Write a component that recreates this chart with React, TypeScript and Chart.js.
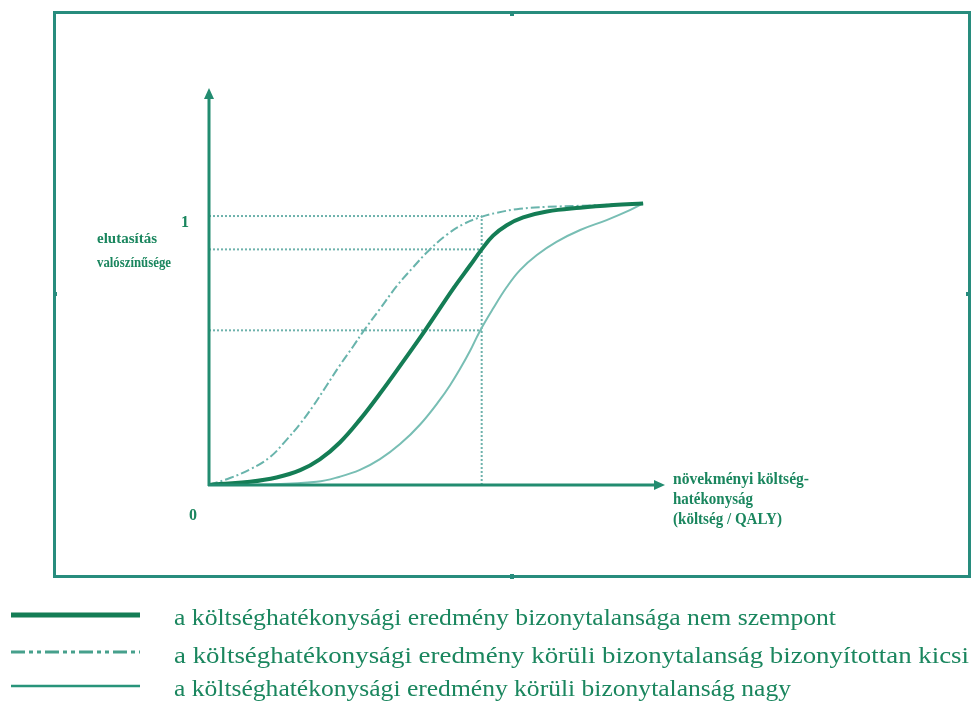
import React, { useEffect, useRef } from "react";
import { Chart, registerables } from "chart.js";

Chart.register(...registerables);

// ---- data ----
// thick curve: uncertainty not considered
const baseX = [0, 0.24, 0.9, 1.48, 2.0, 2.43, 2.87, 3.31, 3.75, 4.19, 4.74, 5.36, 5.72, 5.98, 6.23, 6.53, 6.89, 7.41, 8.14, 8.87, 9.52];
const baseY = [0, 0.004, 0.012, 0.028, 0.055, 0.095, 0.158, 0.243, 0.34, 0.443, 0.575, 0.731, 0.815, 0.876, 0.927, 0.966, 0.995, 1.017, 1.031, 1.041, 1.047];
// dash-dot curve: uncertainty proven small
const smallX = [0, 0.46, 0.9, 1.34, 1.7, 2.0, 2.29, 2.58, 2.87, 3.16, 3.38, 3.75, 4.12, 4.48, 4.81, 5.21, 5.58, 5.94, 6.31, 6.82, 7.41, 8.14, 8.87, 9.52];
const smallY = [0, 0.026, 0.058, 0.104, 0.168, 0.228, 0.295, 0.37, 0.445, 0.515, 0.57, 0.655, 0.74, 0.81, 0.87, 0.93, 0.97, 0.995, 1.012, 1.027, 1.034, 1.038, 1.043, 1.047];
// light curve: uncertainty large
const largeX = [0, 1.2, 2.36, 2.87, 3.31, 3.75, 4.19, 4.63, 5.07, 5.29, 5.5, 5.72, 5.94, 6.23, 6.53, 6.82, 7.19, 7.62, 8.14, 8.72, 9.23, 9.52];
const largeY = [0, 0.002, 0.012, 0.031, 0.056, 0.096, 0.152, 0.225, 0.318, 0.372, 0.43, 0.497, 0.572, 0.656, 0.736, 0.799, 0.855, 0.904, 0.948, 0.985, 1.022, 1.047];

const refLevels = [1, 0.876, 0.575];
const refX = 5.98;

const yTickLabels = ["0", "1"];
const yTitle = ["elutasítás", "valószínűsége"];
const xTitle = ["növekményi költség-", "hatékonyság", "(költség / QALY)"];
const legendLabels = [
  "a költséghatékonysági eredmény bizonytalansága nem szempont",
  "a költséghatékonysági eredmény körüli bizonytalanság bizonyítottan kicsi",
  "a költséghatékonysági eredmény körüli bizonytalanság nagy",
];

const X_MAX = 10;
const Y_MAX = 1.476;

const W = 972;
const H = 708;

const C_DARK = "rgb(20,125,85)";
const C_AXIS = "rgb(34,140,112)";
const C_LIGHT = "rgb(120,190,180)";
const C_DASH = "rgb(105,180,172)";
const C_REF = "rgb(110,178,172)";
const C_TEXT = "rgb(26,134,94)";
const C_FRAME = "rgb(40,140,125)";

function pts(xs: number[], ys: number[]) {
  return xs.map((x, i) => ({ x, y: ys[i] }));
}

function fitText(ctx: CanvasRenderingContext2D, text: string, x: number, y: number, width: number) {
  const w = ctx.measureText(text).width;
  ctx.save();
  ctx.translate(x, y);
  ctx.scale(width / w, 1);
  ctx.fillText(text, 0, 0);
  ctx.restore();
}

const decor = {
  id: "decor",
  afterDatasetsDraw(chart: any) {
    const ctx = chart.ctx as CanvasRenderingContext2D;
    const xs = chart.scales.x;
    const ys = chart.scales.y;
    const x0 = xs.getPixelForValue(0);
    const y0 = ys.getPixelForValue(0);
    const xEnd = xs.getPixelForValue(X_MAX);
    const yEnd = ys.getPixelForValue(Y_MAX);
    ctx.save();
    ctx.strokeStyle = C_AXIS;
    ctx.fillStyle = C_AXIS;
    ctx.lineWidth = 3;
    ctx.beginPath();
    ctx.moveTo(x0, y0 + 1);
    ctx.lineTo(x0, yEnd + 8);
    ctx.moveTo(x0 - 1, y0);
    ctx.lineTo(xEnd - 8, y0);
    ctx.stroke();
    ctx.beginPath();
    ctx.moveTo(x0, yEnd);
    ctx.lineTo(x0 - 5, yEnd + 11);
    ctx.lineTo(x0 + 5, yEnd + 11);
    ctx.closePath();
    ctx.fill();
    ctx.beginPath();
    ctx.moveTo(xEnd, y0);
    ctx.lineTo(xEnd - 11, y0 - 5);
    ctx.lineTo(xEnd - 11, y0 + 5);
    ctx.closePath();
    ctx.fill();
    ctx.restore();
  },
  afterDraw(chart: any) {
    const ctx = chart.ctx as CanvasRenderingContext2D;
    const xs = chart.scales.x;
    const ys = chart.scales.y;
    const x0 = xs.getPixelForValue(0);
    const y0 = ys.getPixelForValue(0);
    const y1 = ys.getPixelForValue(1);
    ctx.save();
    // frame
    ctx.strokeStyle = C_FRAME;
    ctx.lineWidth = 3;
    ctx.strokeRect(54.5, 12.5, 915, 564);
    ctx.fillStyle = C_FRAME;
    ctx.fillRect(510, 11, 4, 5);
    ctx.fillRect(53, 292, 4, 4);
    ctx.fillRect(966, 292, 5, 4);
    ctx.fillRect(510, 574, 4, 5);

    // tick labels
    ctx.fillStyle = C_TEXT;
    ctx.font = "bold 16px 'Liberation Serif'";
    ctx.textAlign = "center";
    ctx.textBaseline = "alphabetic";
    ctx.fillText(yTickLabels[1], x0 - 24, y1 + 11);
    ctx.fillText(yTickLabels[0], x0 - 16, y0 + 35);

    // axis titles
    ctx.textAlign = "left";
    ctx.font = "bold 15px 'Liberation Serif'";
    fitText(ctx, yTitle[0], 97, 243, 60);
    fitText(ctx, yTitle[1], 97, 267, 74);
    ctx.font = "bold 16px 'Liberation Serif'";
    const xw = [136, 80, 109];
    xTitle.forEach((t, i) => fitText(ctx, t, 673, 484 + i * 20, xw[i]));

    // legend
    const rows = [618, 656, 689];
    ctx.lineCap = "butt";
    ctx.strokeStyle = C_DARK;
    ctx.lineWidth = 5;
    ctx.beginPath();
    ctx.moveTo(11, rows[0] - 3);
    ctx.lineTo(140, rows[0] - 3);
    ctx.stroke();
    ctx.strokeStyle = "rgb(70,160,140)";
    ctx.lineWidth = 3;
    ctx.setLineDash([14, 4, 4, 4, 4, 4]);
    ctx.beginPath();
    ctx.moveTo(11, rows[1] - 4);
    ctx.lineTo(140, rows[1] - 4);
    ctx.stroke();
    ctx.setLineDash([]);
    ctx.strokeStyle = "rgb(40,148,122)";
    ctx.lineWidth = 2.5;
    ctx.beginPath();
    ctx.moveTo(11, rows[2] - 3);
    ctx.lineTo(140, rows[2] - 3);
    ctx.stroke();

    ctx.fillStyle = C_TEXT;
    ctx.font = "24px 'Liberation Serif'";
    ctx.textBaseline = "middle";
    const lw = [662, 795, 617];
    legendLabels.forEach((t, i) => fitText(ctx, t, 174, rows[i] + 1, lw[i]));
    ctx.restore();
  },
};

export default function App() {
  const ref = useRef<HTMLCanvasElement | null>(null);
  useEffect(() => {
    if (!ref.current) return;
    const refSets = refLevels.map((lv) => ({
      data: [
        { x: 0, y: lv },
        { x: refX, y: lv },
      ],
      borderColor: C_REF,
      borderWidth: 2,
      borderDash: [2, 2],
      pointRadius: 0,
      tension: 0,
      order: 5,
    }));
    const curve = { pointRadius: 0, tension: 0.4 };
    const chart = new Chart(ref.current, {
      type: "line",
      data: {
        datasets: [
          {
            label: legendLabels[0],
            data: pts(baseX, baseY),
            borderColor: C_DARK,
            borderWidth: 4,
            order: 1,
            ...curve,
          },
          {
            label: legendLabels[1],
            data: pts(smallX, smallY),
            borderColor: C_DASH,
            borderWidth: 2,
            borderDash: [9, 3, 2, 3],
            order: 2,
            ...curve,
          },
          {
            label: legendLabels[2],
            data: pts(largeX, largeY),
            borderColor: C_LIGHT,
            borderWidth: 2,
            order: 3,
            ...curve,
          },
          ...refSets,
          {
            data: [
              { x: refX, y: 0 },
              { x: refX, y: refLevels[0] },
            ],
            borderColor: C_REF,
            borderWidth: 2,
            borderDash: [2, 2],
            pointRadius: 0,
            tension: 0,
            order: 5,
          },
        ] as any,
      },
      options: {
        animation: false,
        responsive: false,
        maintainAspectRatio: false,
        layout: { padding: { left: 209, right: W - 665, top: 88, bottom: H - 485 } },
        scales: {
          x: { type: "linear", min: 0, max: X_MAX, display: false },
          y: { type: "linear", min: 0, max: Y_MAX, display: false },
        },
        plugins: { legend: { display: false }, tooltip: { enabled: false } },
        elements: { line: { fill: false } },
      },
      plugins: [decor],
    });
    return () => chart.destroy();
  }, []);
  return (
    <div style={{ position: "absolute", left: 0, top: 0, width: W, height: H, background: "#fff" }}>
      <canvas ref={ref} width={W} height={H} style={{ width: W, height: H, display: "block" }} />
    </div>
  );
}
